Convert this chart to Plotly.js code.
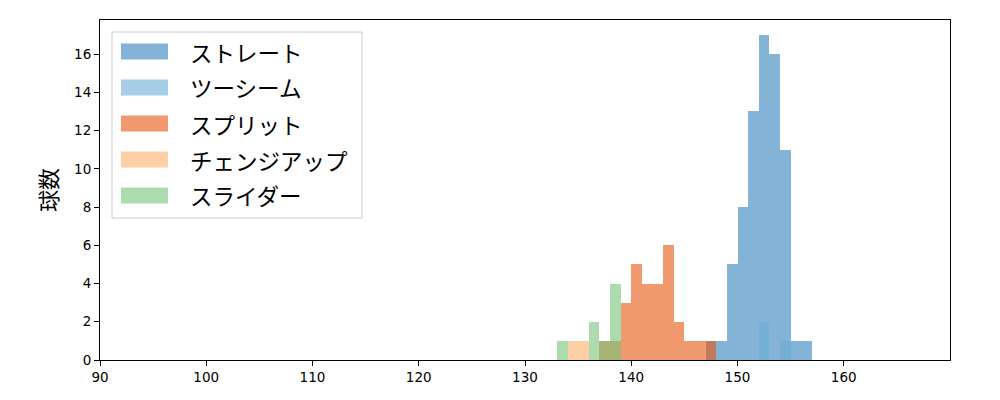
<!DOCTYPE html>
<html>
<head>
<meta charset="utf-8">
<script src="https://cdn.plot.ly/plotly-3.0.1.min.js"></script>
<style>html,body{margin:0;padding:0;background:#fff;}#chart{width:1000px;height:400px;}</style>
</head>
<body>
<div id="chart"></div>
<script>
// Pitch types (legend order)
const pitchNames = ["ストレート", "ツーシーム", "スプリット", "チェンジアップ", "スライダー"];
const pitchColors = ["#3182bd", "#6baed6", "#e6550d", "#fdae6b", "#74c476"];

// Bin left edges (km/h) and counts, per pitch type
const straightBins = [147, 148, 149, 150, 151, 152, 153, 154, 155, 156];
const straightCounts = [1, 1, 5, 8, 13, 17, 16, 11, 1, 1];

const twoSeamBins = [152, 154];
const twoSeamCounts = [2, 1];

const splitBins = [137, 138, 139, 140, 141, 142, 143, 144, 145, 146, 147];
const splitCounts = [1, 1, 3, 5, 4, 4, 6, 2, 1, 1, 1];

const changeupBins = [134, 135];
const changeupCounts = [1, 1];

const sliderBins = [133, 136, 137, 138];
const sliderCounts = [1, 2, 1, 4];

const xTicks = [90, 100, 110, 120, 130, 140, 150, 160];
const yTicks = [0, 2, 4, 6, 8, 10, 12, 14, 16];

const binsList = [straightBins, twoSeamBins, splitBins, changeupBins, sliderBins];
const countsList = [straightCounts, twoSeamCounts, splitCounts, changeupCounts, sliderCounts];

const FONT = '"Noto Sans CJK JP", "Noto Sans", sans-serif';
const TICKFONT = '"DejaVu Sans", sans-serif';

const traces = pitchNames.map((name, i) => ({
  type: 'bar',
  name: name,
  x: binsList[i],
  y: countsList[i],
  width: 1,
  offset: 0,
  marker: {color: pitchColors[i], opacity: 0.6, line: {width: 0}},
  showlegend: false,
  hoverinfo: 'skip'
}));

// Custom legend (matplotlib style) in paper coordinates
const plotW = 850, plotH = 340;
const px2x = p => (p - 100) / plotW;
const py2y = p => (360 - p) / plotH;
const shapes = [{
  type: 'rect', xref: 'paper', yref: 'paper',
  x0: px2x(112), x1: px2x(362), y0: py2y(218), y1: py2y(32),
  line: {color: '#cccccc', width: 1}, fillcolor: 'rgba(255,255,255,0.8)', layer: 'above'
}];
const annotations = [];
pitchNames.forEach((name, i) => {
  const cy = 51.5 + i * 36;
  shapes.push({
    type: 'rect', xref: 'paper', yref: 'paper',
    x0: px2x(121), x1: px2x(168), y0: py2y(cy + 8), y1: py2y(cy - 8),
    line: {width: 0}, fillcolor: pitchColors[i], opacity: 0.6, layer: 'above'
  });
  annotations.push({
    xref: 'paper', yref: 'paper', x: px2x(188), y: py2y(cy),
    xanchor: 'left', yanchor: 'middle', showarrow: false,
    text: name, font: {family: FONT, size: 22.5, color: '#000'}
  });
});

const layout = {
  width: 1000, height: 400,
  margin: {l: 100, r: 50, t: 20, b: 40},
  paper_bgcolor: '#fff', plot_bgcolor: '#fff',
  barmode: 'overlay', bargap: 0,
  font: {family: FONT, size: 14, color: '#000'},
  xaxis: {
    range: [90, 170], tickvals: xTicks, ticktext: xTicks.map(String),
    showgrid: false, zeroline: false, showline: true, mirror: true,
    linecolor: '#000', linewidth: 1, ticks: 'outside', ticklen: 5, tickwidth: 1, tickcolor: '#000',
    tickfont: {family: TICKFONT, size: 13.5, color: '#000'}
  },
  yaxis: {
    range: [0, 17.78], tickvals: yTicks, ticktext: yTicks.map(String),
    showgrid: false, zeroline: false, showline: true, mirror: true,
    linecolor: '#000', linewidth: 1, ticks: 'outside', ticklen: 5, tickwidth: 1, tickcolor: '#000',
    tickfont: {family: TICKFONT, size: 13.5, color: '#000'},
    title: {text: '球数', font: {family: FONT, size: 22, color: '#000'}, standoff: 10}
  },
  shapes: shapes,
  annotations: annotations,
  showlegend: false
};

Plotly.newPlot('chart', traces, layout, {staticPlot: true, displayModeBar: false});
</script>
</body>
</html>
